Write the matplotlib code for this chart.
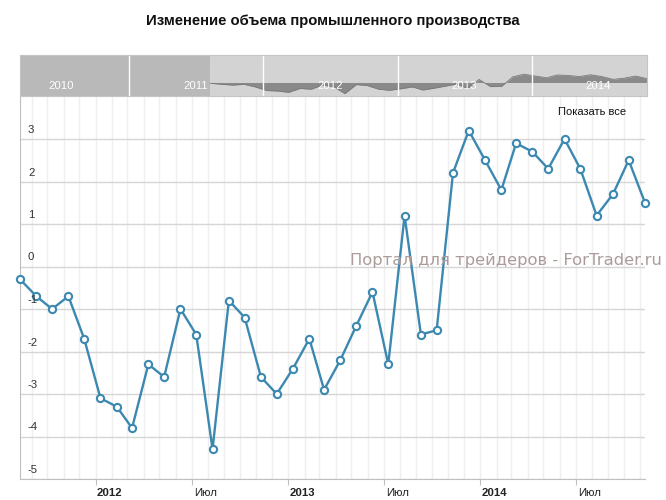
import matplotlib
matplotlib.use("Agg")
import matplotlib.pyplot as plt
import matplotlib.dates as mdates
import matplotlib.transforms as mtransforms
import pandas as pd

W, H = 666, 500

# monthly values, % change
months = [
    "2011-08", "2011-09", "2011-10", "2011-11", "2011-12",
    "2012-01", "2012-02", "2012-03", "2012-04", "2012-05", "2012-06",
    "2012-07", "2012-08", "2012-09", "2012-10", "2012-11", "2012-12",
    "2013-01", "2013-02", "2013-03", "2013-04", "2013-05", "2013-06",
    "2013-07", "2013-08", "2013-09", "2013-10", "2013-11", "2013-12",
    "2014-01", "2014-02", "2014-03", "2014-04", "2014-05", "2014-06",
    "2014-07", "2014-08", "2014-09", "2014-10", "2014-11",
]
values = [
    -0.3, -0.7, -1.0, -0.7, -1.7,
    -3.1, -3.3, -3.8, -2.3, -2.6, -1.0,
    -1.6, -4.3, -0.8, -1.2, -2.6, -3.0,
    -2.4, -1.7, -2.9, -2.2, -1.4, -0.6,
    -2.3, 1.2, -1.6, -1.5, 2.2, 3.2,
    2.5, 1.8, 2.9, 2.7, 2.3, 3.0,
    2.3, 1.2, 1.7, 2.5, 1.5,
]
major_ticks = ["2012-01-01", "2012-07-01", "2013-01-01", "2013-07-01", "2014-01-01", "2014-07-01"]
major_labels = ["2012", "Июл", "2013", "Июл", "2014", "Июл"]
y_ticks = [-5, -4, -3, -2, -1, 0, 1, 2, 3]
nav_years = ["2010", "2011", "2012", "2013", "2014"]

TITLE = "Изменение объема промышленного производства"
LINE = "#3b88b0"


def px_axes(fig, left, top, right, bottom):
    return fig.add_axes([left / W, 1 - bottom / H, (right - left) / W, (bottom - top) / H])


def main():
    plt.rcParams["font.family"] = ["Liberation Sans", "DejaVu Sans"]
    dates = pd.to_datetime([m + "-10" for m in months])

    fig = plt.figure(figsize=(W / 100, H / 100), dpi=100)

    # main chart
    ax = px_axes(fig, 20, 96.5, 645, 479)
    ax.plot(dates, values, color=LINE, lw=1.7, marker="o", ms=5.2,
            mfc="white", mec=LINE, mew=1.5, zorder=3, clip_on=False)
    ax.set_xlim(dates[0], dates[-1])
    ax.set_ylim(-5, 4)

    ax.set_yticks(y_ticks)
    ax.set_yticklabels([])
    ax.tick_params(axis="y", length=0)
    ax.grid(axis="y", color="#d6d6d6", lw=1)

    ax.xaxis.set_minor_locator(mdates.MonthLocator())
    ax.set_xticks(pd.to_datetime(major_ticks))
    ax.set_xticklabels([])
    ax.grid(axis="x", which="both", color="#efefef", lw=1)
    ax.tick_params(axis="x", which="major", length=4, color="#c0c0c0", direction="out")
    ax.tick_params(axis="x", which="minor", length=0)
    ax.set_axisbelow(True)

    for s in ["top", "right"]:
        ax.spines[s].set_visible(False)
    for s in ["left", "bottom"]:
        ax.spines[s].set_color("#c0c0c0")

    ytrans = mtransforms.blended_transform_factory(ax.transAxes, ax.transData)
    for v in y_ticks:
        t = mtransforms.offset_copy(ytrans, fig=fig, x=8, y=4, units="dots")
        ax.text(0, v, str(v), transform=t, ha="left", va="bottom",
                fontsize=8.2, color="#333333")

    xtrans = mtransforms.blended_transform_factory(ax.transData, ax.transAxes)
    for d, lab in zip(pd.to_datetime(major_ticks), major_labels):
        t = mtransforms.offset_copy(xtrans, fig=fig, x=14, y=-14, units="dots")
        ax.text(d, 0, lab, transform=t, ha="center", va="center", fontsize=8.2,
                color="#222222", fontweight="bold" if lab.isdigit() else "normal")

    # navigator strip
    nav = px_axes(fig, 20, 55.3, 647, 95.7)
    nav.set_facecolor("#d3d3d3")
    nav.set_xlim(pd.Timestamp("2010-03-10"), pd.Timestamp("2014-11-10"))
    nav.set_ylim(-5.1, 10.5)
    nav.axvspan(pd.Timestamp("2010-03-10"), dates[0], color="#b9b9b9", lw=0)
    nav.fill_between(dates, values, 0, color="#8a8a8a", lw=0)
    nav.plot(dates, values, color="#7a7a7a", lw=0.6)
    for y in nav_years[1:]:
        nav.axvline(pd.Timestamp(y + "-01-01"), color="white", lw=1)
    for y in nav_years:
        nav.text(pd.Timestamp(y + "-07-01"), 0.24, y, transform=nav.get_xaxis_transform(),
                 ha="center", va="center", color="white", fontsize=8.2)
    nav.set_xticks([])
    nav.set_yticks([])
    for s in nav.spines.values():
        s.set_color("#c4c4c4")
        s.set_linewidth(0.8)

    fig.text(333 / W, 1 - 21 / H, TITLE, ha="center", va="center",
             fontsize=10.7, fontweight="bold", color="#111111")
    fig.text(558 / W, 1 - 112 / H, "Показать все", ha="left", va="center",
             fontsize=8, color="#111111")
    fig.text(350 / W, 1 - 261 / H, "Портал для трейдеров - ForTrader.ru",
             ha="left", va="center", fontsize=11.8, color="#ab9c9a",
             family="DejaVu Sans", zorder=5)

    fig.savefig("out.png", dpi=100)


if __name__ == "__main__":
    main()
